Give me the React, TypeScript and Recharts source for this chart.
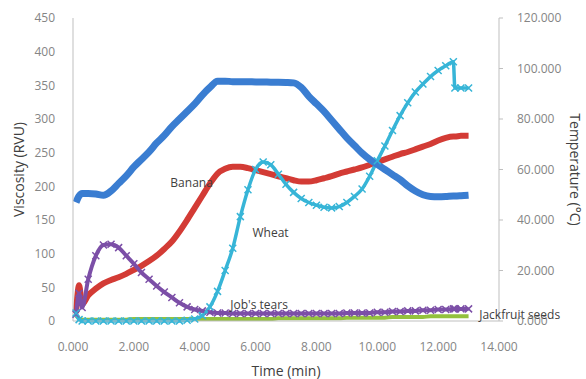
import React from "react";
import { Line, LineChart, ReferenceDot, XAxis, YAxis } from "recharts";

const FONT = "'Open Sans', sans-serif";

// sample times (min)
const times = [
  0.1, 0.2, 0.3,
  0.5, 0.75, 1.0, 1.25, 1.5, 1.75, 2.0, 2.25, 2.5, 2.75,
  3.0, 3.25, 3.5, 3.75, 4.0, 4.25, 4.5, 4.75, 5.0, 5.25,
  5.5, 5.75, 6.0, 6.25, 6.5, 6.75, 7.0, 7.25, 7.5, 7.75,
  8.0, 8.25, 8.5, 8.75, 9.0, 9.25, 9.5, 9.75, 10.0, 10.25,
  10.5, 10.75, 11.0, 11.25, 11.5, 11.75, 12.0, 12.25, 12.5,
  12.55, 12.75, 13.0,
];

// °C, right axis
const temperature = [
  47, 49.5, 50.5,
  50.5, 50.3, 49.8, 51.5, 54.5, 57.5, 61, 64, 67, 70.5,
  73.5, 77, 80, 83, 86, 89.5, 92.5, 95, 95, 94.8,
  94.8, 94.8, 94.7, 94.7, 94.6, 94.6, 94.5, 94.3, 92.5, 89,
  86, 83, 79.5, 76, 72.5, 69.5, 66.5, 64, 62, 60,
  58, 56, 53.5, 51.5, 50, 49.3, 49.2, 49.3, 49.5,
  49.5, 49.6, 49.8,
];

// RVU, left axis
const banana = [
  12, 53, 25,
  38, 48, 56, 61, 65, 70, 76, 82, 89, 97,
  107, 118, 133, 150, 168, 186, 204, 219, 226, 229,
  229, 227, 224, 221, 218, 215, 212, 209, 207, 207,
  209, 212, 215, 219, 222, 225, 228, 232, 236, 240,
  244, 248, 251, 255, 259, 263, 268, 272, 274,
  274, 275, 275,
];

const wheat = [
  12, 2, 0,
  0, 0, 0, 0, 0, 0, 0, 0, 0, 0,
  0, 0, 0, 1, 3, 8, 21, 44, 75, 108,
  155, 195, 225, 236, 232, 218, 203, 191, 182, 176,
  172, 169, 168, 170, 176, 185, 196, 215, 238, 260,
  283, 305, 324, 340, 352, 363, 372, 379, 385,
  346, 346, 346,
];

const jobsTears = [
  10, 41, 20,
  62, 97, 113, 114, 109, 97, 85, 72, 62, 52,
  43, 35, 27, 21, 17, 15, 13, 12, 12, 11,
  11, 11, 11, 11, 11, 11, 11, 11, 11, 11,
  11, 11, 11, 11, 12, 12, 12, 12, 13, 13,
  14, 14, 15, 15, 16, 16, 17, 17, 18,
  18, 18, 18,
];

const jackfruit = [
  8, 4, 2,
  2, 2, 2, 2, 2, 2, 3, 3, 3, 3,
  3, 3, 3, 3, 3, 3, 3, 3, 3, 3,
  3, 3, 3, 3, 3, 4, 4, 4, 4, 4,
  4, 4, 4, 4, 5, 5, 5, 5, 5, 5,
  6, 6, 6, 6, 6, 7, 7, 7, 7,
  7, 7, 7,
];

const xTicks = [0, 2, 4, 6, 8, 10, 12, 14];
const viscosityTicks = [0, 50, 100, 150, 200, 250, 300, 350, 400, 450];
const temperatureTicks = [0, 20, 40, 60, 80, 100, 120];

// in-plot series names, anchored at (min, RVU)
const seriesNotes = [
  { name: "Banana", t: 3.2, v: 206 },
  { name: "Wheat", t: 5.9, v: 132 },
  { name: "Job's tears", t: 5.17, v: 25 },
  { name: "Jackfruit seeds", t: 13.35, v: 10 },
];

const rows = times.map((t, i) => ({
  t,
  temperature: temperature[i],
  banana: banana[i],
  wheat: wheat[i],
  jobsTears: jobsTears[i],
  jackfruit: jackfruit[i],
}));

const crossDot = (color: string) => (p: any) => (
  <path
    key={p.index}
    d={`M${p.cx - 3.5},${p.cy - 3.5}L${p.cx + 3.5},${p.cy + 3.5}M${p.cx - 3.5},${p.cy + 3.5}L${p.cx + 3.5},${p.cy - 3.5}`}
    stroke={color}
    strokeWidth={1.5}
    fill="none"
  />
);

const tickStyle = { fill: "#858585", fontSize: 12, fontFamily: FONT };
const axisGray = { stroke: "#bfbfbf" };

export default function App() {
  return (
    <div style={{ position: "absolute", left: 0, top: 0, background: "#fff" }}>
      <LineChart
        width={586}
        height={379}
        data={rows}
        margin={{ top: 18, right: 0, bottom: 0, left: 0 }}
      >
        <XAxis
          dataKey="t"
          type="number"
          domain={[0, 14]}
          ticks={xTicks}
          height={58}
          axisLine={axisGray}
          tickLine={false}
          tickSize={0}
          tickMargin={21}
          tick={tickStyle}
          tickFormatter={(v: number) => v.toFixed(3)}
          label={{
            content: ({ viewBox }: any) => (
              <text
                x={viewBox.x + viewBox.width / 2}
                y={viewBox.y + 49}
                textAnchor="middle"
                dominantBaseline="central"
                fontSize={14}
                fontFamily={FONT}
                fill="#404040"
              >
                Time (min)
              </text>
            ),
          }}
        />
        <YAxis
          yAxisId="left"
          type="number"
          domain={[0, 450]}
          ticks={viscosityTicks}
          width={73}
          axisLine={axisGray}
          tickLine={false}
          tickSize={0}
          tickMargin={18}
          tick={tickStyle}
          label={{
            content: ({ viewBox }: any) => {
              const x = viewBox.x + 18;
              const y = viewBox.y + viewBox.height / 2;
              return (
                <text
                  x={x}
                  y={y}
                  transform={`rotate(-90 ${x} ${y})`}
                  textAnchor="middle"
                  dominantBaseline="central"
                  fontSize={14}
                  fontFamily={FONT}
                  fill="#404040"
                >
                  Viscosity (RVU)
                </text>
              );
            },
          }}
        />
        <YAxis
          yAxisId="right"
          orientation="right"
          type="number"
          domain={[0, 120]}
          ticks={temperatureTicks}
          width={87}
          axisLine={axisGray}
          tickLine={axisGray}
          tickSize={4}
          tickMargin={14}
          tick={tickStyle}
          tickFormatter={(v: number) => v.toFixed(3)}
          label={{
            content: ({ viewBox }: any) => {
              const x = viewBox.x + 76;
              const y = viewBox.y + viewBox.height / 2;
              return (
                <text
                  x={x}
                  y={y}
                  transform={`rotate(90 ${x} ${y})`}
                  textAnchor="middle"
                  dominantBaseline="central"
                  fontSize={14}
                  fontFamily={FONT}
                  fill="#404040"
                >
                  Temperature (°C)
                </text>
              );
            },
          }}
        />

        <Line
          yAxisId="left"
          dataKey="jackfruit"
          type="monotone"
          stroke="#93c13d"
          strokeWidth={4}
          dot={false}
          isAnimationActive={false}
        />
        <Line
          yAxisId="left"
          dataKey="banana"
          type="monotone"
          stroke="#d33b35"
          strokeWidth={6}
          dot={false}
          isAnimationActive={false}
        />
        <Line
          yAxisId="left"
          dataKey="jobsTears"
          type="monotone"
          stroke="#7c4fa7"
          strokeWidth={4}
          dot={crossDot("#7c4fa7")}
          isAnimationActive={false}
        />
        <Line
          yAxisId="left"
          dataKey="wheat"
          type="monotone"
          stroke="#37b5d7"
          strokeWidth={3.5}
          dot={crossDot("#37b5d7")}
          isAnimationActive={false}
        />
        <Line
          yAxisId="right"
          dataKey="temperature"
          type="monotone"
          stroke="#3a7dd1"
          strokeWidth={7}
          dot={false}
          isAnimationActive={false}
        />

        {seriesNotes.map((n) => (
          <ReferenceDot
            key={n.name}
            yAxisId="left"
            x={n.t}
            y={n.v}
            r={0}
            ifOverflow="visible"
            shape={(p: any) => (
              <text
                x={p.cx}
                y={p.cy}
                dominantBaseline="central"
                fontSize={12}
                fontFamily={FONT}
                fill="#404040"
              >
                {n.name}
              </text>
            )}
          />
        ))}
      </LineChart>
    </div>
  );
}
